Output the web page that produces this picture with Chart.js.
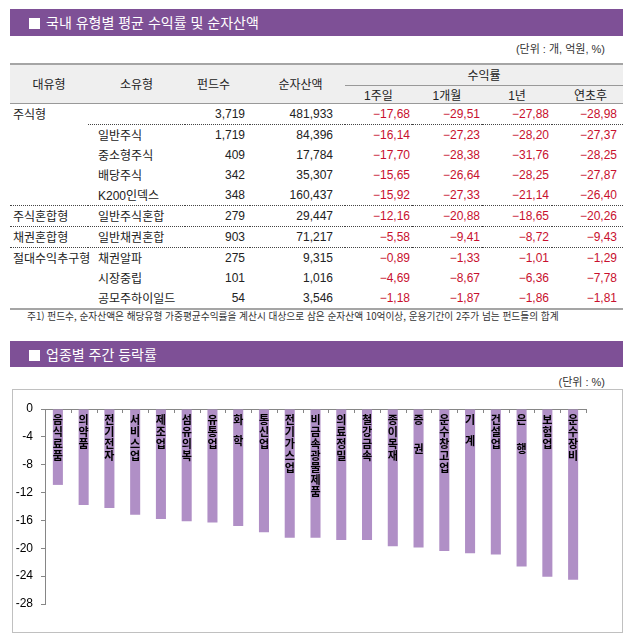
<!DOCTYPE html>
<html lang="ko">
<head>
<meta charset="utf-8">
<script src="https://cdn.jsdelivr.net/npm/chart.js@4.4.1/dist/chart.umd.min.js"></script>
<style>
  body { margin: 0; background: #fff; width: 637px; height: 640px; position: relative; overflow: hidden;
         font-family: "Liberation Sans", "Noto Sans CJK KR", sans-serif; color: #222; }
  .titlebar { position: absolute; left: 10px; width: 613px; background: #7e5096; color: #fff;
              font-family: "Noto Sans CJK KR", sans-serif; font-size: 14px; box-sizing: border-box; padding-left: 19px; }
  .titlebar span.sq { display: inline-block; width: 11px; height: 11px; background: #fff; margin-right: 6px; vertical-align: -1px; }
  .unit { position: absolute; right: 32px; font-size: 11px; color: #333; }
  #tbl { position: absolute; left: 10px; top: 63px; width: 613px; border-collapse: collapse; table-layout: fixed; font-size: 12px; }
  #tbl th { font-weight: normal; background: #efefef; padding: 0; }
  #tbl td { padding: 0; height: 20px; white-space: nowrap; }
  #tbl thead tr:first-child th { border-top: 2px solid #a5a5a5; }
  #tbl thead tr:last-child th, #tbl thead th[rowspan] { border-bottom: 1px solid #999; }
  #tbl td.num { text-align: right; }
  #tbl td.neg { text-align: right; color: #c8102e; }
  #tbl tr.dotted td { border-bottom: 1px dotted #444; }
  #tbl tr.dotsub td.sub { border-bottom: 1px dotted #444; }
  #tbl tbody tr:last-child td { border-bottom: 2px solid #a5a5a5; }
  .note { position: absolute; left: 27px; top: 309px; font-size: 9.7px; color: #333; font-family: "Noto Sans CJK KR", sans-serif; }
  #box { position: absolute; left: 12px; top: 389px; width: 611px; height: 244px; border: 1px solid #c0c0c0; box-sizing: border-box; }
  #chart { position: absolute; left: 0; top: 0; }
</style>
</head>
<body>
<div class="titlebar" style="top:9px;height:27px;line-height:27px;"><span class="sq"></span>국내 유형별 평균 수익률 및 순자산액</div>
<div class="unit" style="top:40px;">(단위 : 개, 억원, %)</div>
<table id="tbl">
  <colgroup>
    <col style="width:78px"><col style="width:97px"><col style="width:65px"><col style="width:95px">
    <col style="width:67px"><col style="width:70px"><col style="width:70px"><col style="width:71px">
  </colgroup>
  <thead>
    <tr style="height:21px">
      <th rowspan="2">대유형</th><th rowspan="2">소유형</th><th rowspan="2" style="padding-right:8px">펀드수</th><th rowspan="2" style="padding-left:6px">순자산액</th>
      <th colspan="4" style="border-bottom:1px solid #999">수익률</th>
    </tr>
    <tr style="height:18px"><th>1주일</th><th>1개월</th><th>1년</th><th style="padding-left:6px">연초후</th></tr>
  </thead>
  <tbody id="rows"></tbody>
</table>
<div class="note">주1) 펀드수, 순자산액은 해당유형 가중평균수익률을 계산시 대상으로 삼은 순자산액 10억이상, 운용기간이 2주가 넘는 펀드들의 합계</div>

<div class="titlebar" style="top:341px;height:26px;line-height:26px;"><span class="sq"></span>업종별 주간 등락률</div>
<div class="unit" style="top:373px;">(단위 : %)</div>
<div id="box"><canvas id="chart" width="609" height="242"></canvas></div>

<script>
// table data
const majorTypes = ["주식형", "", "", "", "", "주식혼합형", "채권혼합형", "절대수익추구형", "", ""];
const subTypes = ["", "일반주식", "중소형주식", "배당주식", "K200인덱스", "일반주식혼합", "일반채권혼합", "채권알파", "시장중립", "공모주하이일드"];
const fundCounts = [3719, 1719, 409, 342, 348, 279, 903, 275, 101, 54];
const netAssets = [481933, 84396, 17784, 35307, 160437, 29447, 71217, 9315, 1016, 3546];
const ret1w = [-17.68, -16.14, -17.70, -15.65, -15.92, -12.16, -5.58, -0.89, -4.69, -1.18];
const ret1m = [-29.51, -27.23, -28.38, -26.64, -27.33, -20.88, -9.41, -1.33, -8.67, -1.87];
const ret1y = [-27.88, -28.20, -31.76, -28.25, -21.14, -18.65, -8.72, -1.01, -6.36, -1.86];
const retYtd = [-28.98, -27.37, -28.25, -27.87, -26.40, -20.26, -9.43, -1.29, -7.78, -1.81];

// chart data
const sectors = ["음식료품", "의약품", "전기전자", "서비스업", "제조업", "섬유의복", "유통업", "화 학", "통신업", "전기가스업",
  "비금속광물제품", "의료정밀", "철강금속", "종이목재", "증  권", "운수창고업", "기 계", "건설업", "은  행", "보험업", "운수장비"];
const weeklyChange = [-10.9, -13.8, -14.2, -15.2, -15.8, -16.1, -16.3, -16.8, -17.7, -18.5,
  -18.5, -18.8, -18.8, -19.7, -19.9, -20.4, -20.7, -20.9, -22.6, -24.1, -24.5];
const yMin = -28, yMax = 0, yStep = 4;

function fmtRate(v) {
  return (v < 0 ? "\u2212" : "") + Math.abs(v).toFixed(2).replace(".", ",");
}

const rowsEl = document.getElementById("rows");
const dottedRows = [4, 5, 6];
majorTypes.forEach((major, i) => {
  const tr = document.createElement("tr");
  if (i === 0) { tr.className = "dotsub"; tr.style.height = "21px"; }
  if (dottedRows.includes(i)) tr.className = "dotted";
  const cells = [
    [major, "", "padding-left:3px"],
    [subTypes[i], "sub", "padding-left:10px"],
    [fundCounts[i].toLocaleString("en-US"), "sub num", "padding-right:5px"],
    [netAssets[i].toLocaleString("en-US"), "sub num", "padding-right:12px"],
    [fmtRate(ret1w[i]), "sub neg", "padding-right:2px"],
    [fmtRate(ret1m[i]), "sub neg", "padding-right:2px"],
    [fmtRate(ret1y[i]), "sub neg", "padding-right:3px"],
    [fmtRate(retYtd[i]), "sub neg", "padding-right:6px"]
  ];
  cells.forEach(([text, cls, style]) => {
    const td = document.createElement("td");
    td.className = cls;
    td.style.cssText = style;
    td.innerText = text;
    tr.appendChild(td);
  });
  rowsEl.appendChild(tr);
});

// vertical category labels inside the bars, plus small inward ticks on the top axis
const barLabels = {
  id: "barLabels",
  afterDatasetsDraw(chart) {
    const ctx = chart.ctx;
    const xs = chart.scales.x;
    const ys = chart.scales.y;
    const y0 = ys.getPixelForValue(0);
    ctx.save();
    ctx.strokeStyle = "#868686";
    ctx.lineWidth = 1;
    const n = sectors.length;
    for (let i = 0; i <= n; i++) {
      const bx = Math.round(xs.left + i * xs.width / n) + 0.5;
      ctx.beginPath();
      ctx.moveTo(bx, y0);
      ctx.lineTo(bx, y0 + 4);
      ctx.stroke();
    }
    ctx.fillStyle = "#000";
    ctx.font = "bold 11px 'Noto Sans CJK KR'";
    ctx.textAlign = "center";
    ctx.textBaseline = "middle";
    sectors.forEach((name, i) => {
      const x = xs.getPixelForValue(i);
      let y = y0 + 11;
      for (const ch of name) {
        if (ch === " ") { y += 8.5; continue; }
        ctx.fillText(ch, x, y);
        y += 12;
      }
    });
    ctx.restore();
  }
};

new Chart(document.getElementById("chart"), {
  type: "bar",
  data: {
    labels: sectors,
    datasets: [{
      data: weeklyChange,
      backgroundColor: "#b08fc6",
      barPercentage: 0.39,
      categoryPercentage: 1
    }]
  },
  options: {
    responsive: false,
    animation: false,
    devicePixelRatio: 1,
    layout: { padding: { left: 0, top: 19, right: 36, bottom: 28 } },
    plugins: { legend: { display: false }, tooltip: { enabled: false } },
    scales: {
      x: {
        position: "top",
        grid: { display: false },
        ticks: { display: false },
        border: { display: true, color: "#868686" },
        afterFit(s) { s.height = 0; }
      },
      y: {
        min: yMin,
        max: yMax,
        ticks: { stepSize: yStep, color: "#000", padding: 8, font: { family: "Liberation Sans", size: 12 } },
        grid: { drawOnChartArea: false, drawTicks: true, tickLength: 4, color: "#868686" },
        border: { color: "#868686" },
        afterFit(s) { s.width = 32; }
      }
    }
  },
  plugins: [barLabels]
});
</script>
</body>
</html>
